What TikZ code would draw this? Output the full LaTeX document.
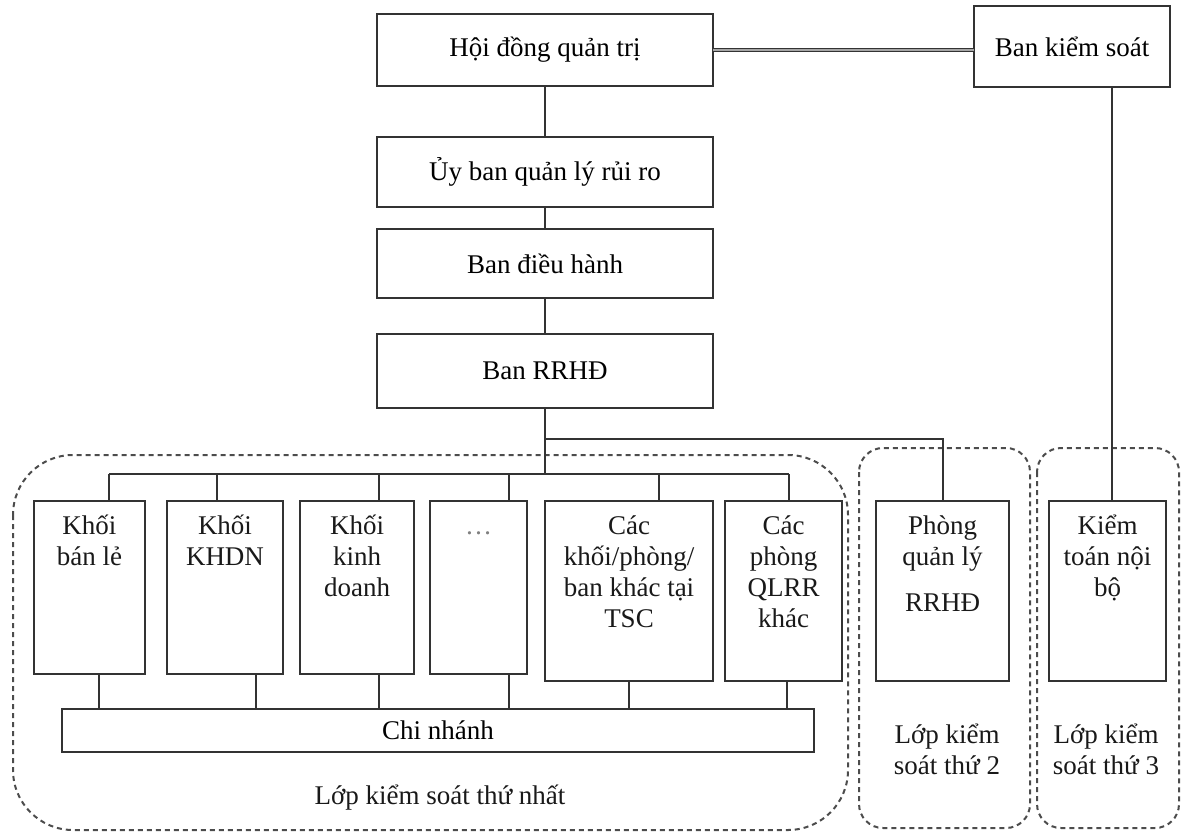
\documentclass[tikz,border=0pt]{standalone}
\usepackage{fontspec}
\setmainfont{Liberation Serif}
\newcommand\fsz{\fontsize{13.5}{15.5}\selectfont}
\newcommand\stt{\rule{0pt}{15pt}}
\begin{document}
\begin{tikzpicture}[x=0.5pt,y=-0.5pt,
  box/.style={draw=black!80, line width=1pt, inner sep=0pt, outer sep=0pt, rectangle, font=\fsz},
  ln/.style={draw=black!80, line width=1pt},
  dbl/.style={draw=black!80, line width=0.8pt, double=black!35, double distance=0.6pt},
  zone/.style={draw=black!70, line width=1pt, dash pattern=on 2.5pt off 2pt, rounded corners=#1},
  btxt/.style={anchor=north, align=center, inner sep=0pt, yshift=-1.5pt, font=\fsz, text=black!90},
  ztxt/.style={align=center, inner sep=0pt, font=\fsz, text=black!90}]
\useasboundingbox (0,0) rectangle (1181,834);

% dashed zones
\draw[zone=30pt] (13,455) rectangle (848,830);
\draw[zone=12pt] (859,448) rectangle (1030,828);
\draw[zone=12pt] (1037,448) rectangle (1179,828);

% top chain
\node[box, minimum width=168pt, minimum height=36pt] (hdqt) at (545,50) {Hội đồng quản trị};
\node[box, minimum width=98pt, minimum height=40.5pt] (bks) at (1072,46.5) {Ban kiểm soát};
\node[box, minimum width=168pt, minimum height=35pt] (uyban) at (545,172) {Ủy ban quản lý rủi ro};
\node[box, minimum width=168pt, minimum height=34.5pt] (dieuhanh) at (545,263.5) {Ban điều hành};
\node[box, minimum width=168pt, minimum height=37pt] (rrhd) at (545,371) {Ban RRHĐ};

% lower boxes
\node[box, minimum width=55.5pt, minimum height=86.5pt] (b1) at (89.5,587.5) {};
\node[box, minimum width=58pt, minimum height=86.5pt] (b2) at (225,587.5) {};
\node[box, minimum width=57pt, minimum height=86.5pt] (b3) at (357,587.5) {};
\node[box, minimum width=48.5pt, minimum height=86.5pt] (b4) at (478.5,587.5) {};
\node[box, minimum width=84pt, minimum height=90pt] (b5) at (629,591) {};
\node[box, minimum width=58.5pt, minimum height=90pt] (b6) at (783.5,591) {};
\node[box, minimum width=66.5pt, minimum height=90pt] (b7) at (942.5,591) {};
\node[box, minimum width=58.5pt, minimum height=90pt] (b8) at (1107.5,591) {};
\node[box, minimum width=376pt, minimum height=21.5pt] (cn) at (438,730.5) {\raisebox{-2pt}{Chi nhánh}};

\node[btxt] at (b1.north) {\stt Khối\\bán lẻ};
\node[btxt] at (b2.north) {\stt Khối\\KHDN};
\node[btxt] at (b3.north) {\stt Khối\\kinh\\doanh};
\node[btxt, text=black!50] at (b4.north) {\stt\dots};
\node[btxt] at (b5.north) {\stt Các\\khối/phòng/\\ban khác tại\\TSC};
\node[btxt] at (b6.north) {\stt Các\\phòng\\QLRR\\khác};
\node[btxt] at (b7.north) {\stt Phòng\\quản lý\\[7.5pt]RRHĐ};
\node[btxt] at (b8.north) {\stt Kiểm\\toán nội\\bộ};

% zone labels
\node[ztxt] (z1) at (440,798) {Lớp kiểm soát thứ nhất};
\node[ztxt] (z2) at (947,749) {Lớp kiểm\\soát thứ 2};
\node[ztxt] (z3) at (1106,749) {Lớp kiểm\\soát thứ 3};

% connectors top
\draw[dbl] (hdqt.east) -- (hdqt.east -| bks.west);
\coordinate (ktx) at (1112,100);
\draw[ln] (ktx |- bks.south) -- (ktx |- b8.north);
\draw[ln] (hdqt.south) -- (uyban.north);
\draw[ln] (uyban.south) -- (dieuhanh.north);
\draw[ln] (dieuhanh.south) -- (rrhd.north);
\coordinate (t1) at (545,439);
\coordinate (j0) at (545,474);
\draw[ln] (rrhd.south) -- (j0);
\draw[ln] (t1) -| (b7.north);

% bus to business blocks
\coordinate (j1) at (109,474);
\coordinate (j2) at (217,474);
\coordinate (j3) at (379,474);
\coordinate (j4) at (509,474);
\coordinate (j5) at (659,474);
\coordinate (j6) at (789,474);
\draw[ln] (j1) -- (j6);
\foreach \i/\b in {1/b1,2/b2,3/b3,4/b4,5/b5,6/b6}
  \draw[ln] (j\i) -- (j\i |- \b.north);

% drops to Chi nhanh
\coordinate (k1) at (99,700);
\coordinate (k2) at (256,700);
\coordinate (k3) at (379,700);
\coordinate (k4) at (509,700);
\coordinate (k5) at (629,700);
\coordinate (k6) at (787,700);
\foreach \i/\b in {1/b1,2/b2,3/b3,4/b4,5/b5,6/b6}
  \draw[ln] (k\i |- \b.south) -- (k\i |- cn.north);
\end{tikzpicture}
\end{document}
